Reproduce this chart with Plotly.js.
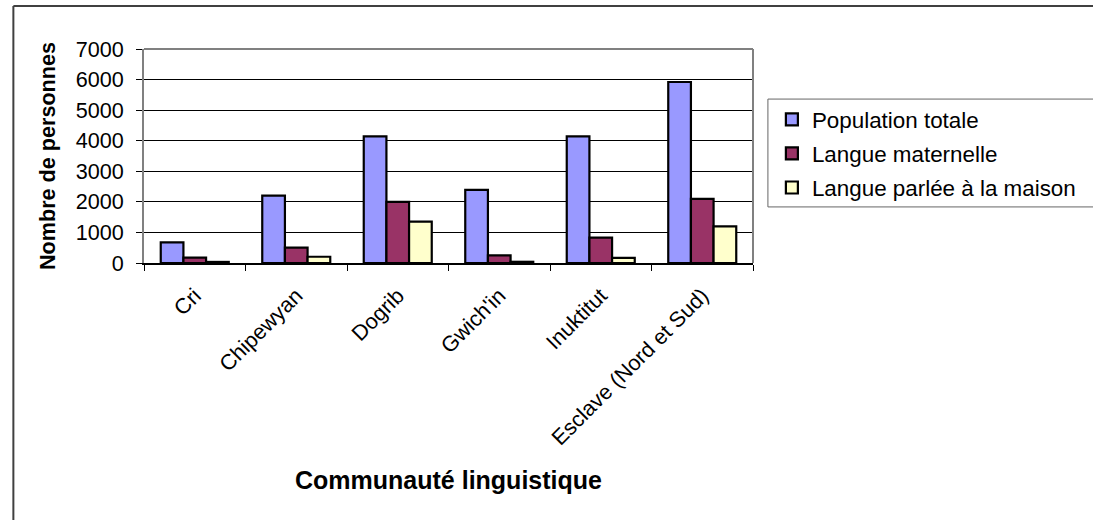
<!DOCTYPE html>
<html>
<head>
<meta charset="utf-8">
<script src="https://cdn.plot.ly/plotly-3.0.1.min.js"></script>
<style>html,body{margin:0;padding:0;background:#fff;}#chart{width:1093px;height:520px;}</style>
</head>
<body>
<div id="chart"></div>
<script>
const categories = ["Cri", "Chipewyan", "Dogrib", "Gwich'in", "Inuktitut", "Esclave (Nord et Sud)"];
const seriesNames = ["Population totale", "Langue maternelle", "Langue parlée à la maison"];
const populationTotale = [675, 2205, 4140, 2395, 4140, 5920];
const langueMaternelle = [175, 500, 2000, 250, 830, 2100];
const langueMaison = [35, 205, 1355, 40, 170, 1200];
const yTicks = [0, 1000, 2000, 3000, 4000, 5000, 6000, 7000];
const colors = ["#9999FF", "#993366", "#FFFFCC"];

const FONT = "Liberation Sans, Arial, sans-serif";
const values = [populationTotale, langueMaternelle, langueMaison];
const traces = values.map((v, i) => ({
  type: "bar",
  name: seriesNames[i],
  legendgroup: "g" + i,
  x: categories,
  y: v,
  marker: {color: colors[i], line: {color: "#000000", width: 2.2}},
  hoverinfo: "x+y+name"
}));

const layout = {
  width: 1093, height: 520,
  margin: {l: 144, r: 307, t: 49, b: 257, pad: 0},
  paper_bgcolor: "#ffffff", plot_bgcolor: "#ffffff",
  font: {family: FONT, size: 21.6, color: "#000"},
  barmode: "group", bargap: 0.33, bargroupgap: 0,
  showlegend: true,
  legend: {
    x: 1.031, y: 0.77, xanchor: "left", yanchor: "top",
    borderwidth: 0, bgcolor: "rgba(0,0,0,0)",
    font: {family: FONT, size: 22.4, color: "#000"},
    tracegroupgap: 2
  },
  xaxis: {
    type: "category",
    tickangle: -45,
    ticks: "outside", ticklen: 6, tickcolor: "#000", tickwidth: 1,
    tickson: "boundaries",
    ticklabelstandoff: 10,
    showline: true, linecolor: "#000", linewidth: 1.5,
    showgrid: false, automargin: false,
    title: {text: "<b>Communauté linguistique</b>", font: {family: FONT, size: 25, color: "#000"}, standoff: 22}
  },
  yaxis: {
    range: [0, 7000],
    tickvals: yTicks,
    ticktext: yTicks.map(String),
    ticks: "outside", ticklen: 6, tickcolor: "#000", tickwidth: 1,
    ticklabelstandoff: 8,
    showline: true, linecolor: "#808080", linewidth: 2,
    showgrid: true, gridcolor: "#000", gridwidth: 1,
    zeroline: false, automargin: false,
    title: {text: "<b>Nombre de personnes</b>", font: {family: FONT, size: 21.6, color: "#000"}, standoff: 14}
  },
  shapes: [
    {type: "line", xref: "paper", yref: "paper", x0: 0, x1: 1, y0: 1, y1: 1, line: {color: "#808080", width: 2}, layer: "above"},
    {type: "line", xref: "paper", yref: "paper", x0: 1, x1: 1, y0: 0, y1: 1, line: {color: "#808080", width: 2}, layer: "above"},
    {type: "rect", xref: "paper", yref: "paper", x0: 1.0245, x1: 1.6, y0: 0.262, y1: 0.766, line: {color: "#666666", width: 1}, fillcolor: "rgba(0,0,0,0)"},
    {type: "line", xref: "paper", yref: "paper", x0: -0.2145, x1: 2, y0: 1.2009, y1: 1.2009, line: {color: "#404040", width: 2}},
    {type: "line", xref: "paper", yref: "paper", x0: -0.2145, x1: -0.2145, y0: 1.2009, y1: -2, line: {color: "#404040", width: 2}}
  ]
};

Plotly.newPlot("chart", traces, layout, {displayModeBar: false, staticPlot: true});
</script>
</body>
</html>
